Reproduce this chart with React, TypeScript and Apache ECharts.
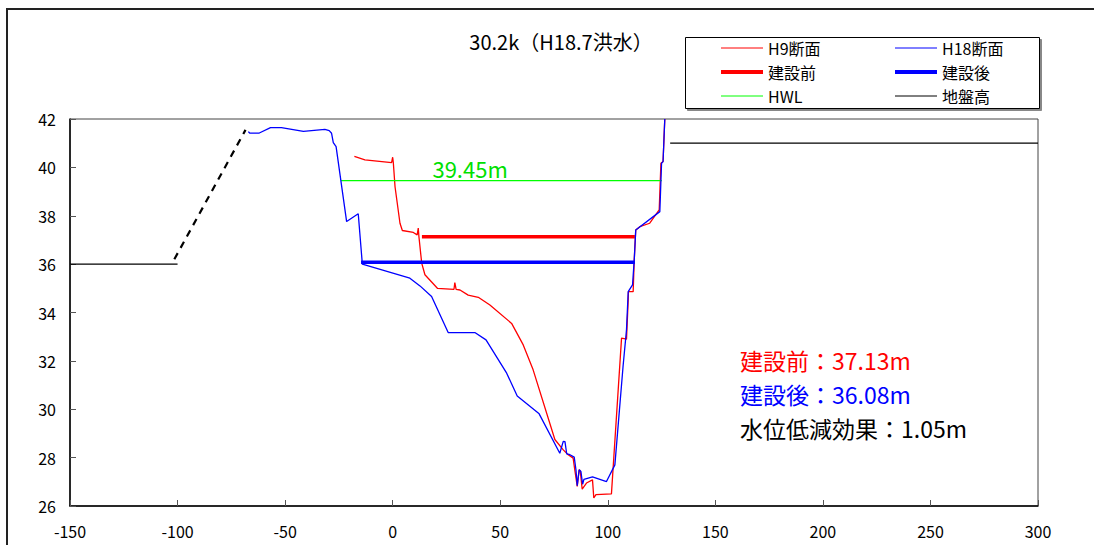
import React, { useEffect, useRef } from "react";
import * as echarts from "echarts";

const FONT = "'Noto Sans CJK JP', 'Noto Sans', sans-serif";

const xTicks = { min: -150, max: 300, interval: 50 };
const yTicks = { min: 26, max: 42, interval: 2 };

const h9Section: number[][] = [
  [-17.8, 40.45], [-12.9, 40.31], [-0.5, 40.2], [0, 40.42], [0.3, 40.2], [1.1, 39.2],
  [3.4, 37.69], [4.5, 37.39], [9.6, 37.31], [11.4, 37.21], [11.9, 37.49], [12.2, 37.14],
  [13.5, 36.04], [15.0, 35.56], [20.8, 35.0], [28.5, 34.96], [28.9, 35.24], [29.5, 34.96],
  [31.3, 34.93], [35.1, 34.72], [39.8, 34.63], [45.2, 34.31], [55.3, 33.55], [60.7, 32.66],
  [65.3, 31.63], [75.4, 28.75], [79.3, 28.32], [81.6, 28.12], [83.9, 27.98], [84.5, 27.6],
  [85.8, 26.81], [86.7, 27.5], [87.2, 27.45], [88.1, 26.7], [90.1, 26.95], [92.9, 27.08],
  [93.5, 26.33], [94.5, 26.47], [101.7, 26.5], [106.4, 32.94], [108.7, 32.9], [109.5, 34.52],
  [109.6, 34.86], [111.8, 34.86], [112.3, 36.17], [113.0, 37.41], [114.9, 37.55],
  [119.5, 37.69], [123.9, 38.24], [124.7, 40.17], [125.7, 40.24], [126.5, 42.0],
];

const h18Section: number[][] = [
  [-67.1, 41.48], [-66.5, 41.42], [-62, 41.42], [-56.8, 41.64], [-51.7, 41.64], [-41.5, 41.49],
  [-31.5, 41.57], [-29.5, 41.52], [-28.4, 41.41], [-27.6, 41.02], [-26.3, 40.86], [-21.4, 37.76],
  [-16.0, 38.08], [-14.1, 36.0], [8.0, 35.42], [12.7, 35.1], [18.1, 34.66], [25.8, 33.17],
  [38.2, 33.17], [43.4, 32.87], [53.0, 31.49], [57.9, 30.55], [68.1, 29.81], [77.7, 28.18],
  [79.3, 28.67], [80.1, 28.66], [80.9, 28.16], [82.4, 28.12], [84.4, 28.02], [85.2, 27.5],
  [85.8, 26.84], [86.7, 27.5], [87.5, 27.43], [88.3, 26.9], [88.9, 27.1], [92.9, 27.2],
  [99.4, 27.01], [103.3, 27.7], [107.1, 31.77], [108.7, 33.28], [109.5, 34.86], [111.5, 35.14],
  [112.3, 36.17], [113.0, 37.41], [124.2, 38.17], [125.0, 40.17], [125.7, 40.24], [126.5, 42.0],
];

const beforeLevel: number[][] = [[13.6, 37.13], [112.6, 37.13]];
const afterLevel: number[][] = [[-14.7, 36.08], [112.6, 36.08]];
const hwlLevel: number[][] = [[-24, 39.45], [125.1, 39.45]];
const groundLeft: number[][] = [[-150, 36], [-100, 36]];
const groundRight: number[][] = [[129, 41], [300, 41]];
const leveeDashed: number[][] = [[-101.5, 36.2], [-68.4, 41.55]];

const hwlLabel = "39.45m";
const notes = ["建設前：37.13m", "建設後：36.08m", "水位低減効果：1.05m"];
const noteColors = ["#ff0000", "#0000ff", "#000000"];

export default function App() {
  const ref = useRef<HTMLDivElement>(null);
  useEffect(() => {
    if (!ref.current) return;
    const chart = echarts.init(ref.current, undefined, { renderer: "svg" });
    const legendCommon = {
      orient: "vertical" as const,
      top: 40,
      itemWidth: 42,
      itemHeight: 14,
      itemGap: 8,
      textStyle: { fontFamily: FONT, fontSize: 16, color: "#000" },
      itemStyle: { opacity: 0 },
      selectedMode: false,
      padding: 0,
    };
    const thin = { lineStyle: { width: 1 } };
    const thick = { lineStyle: { width: 4 } };
    chart.setOption({
      animation: false,
      backgroundColor: "#fff",
      textStyle: { fontFamily: FONT },
      title: {
        text: "30.2k（H18.7洪水）",
        left: 556,
        top: 26,
        textAlign: "center",
        textStyle: { fontFamily: FONT, fontSize: 20, fontWeight: "normal", color: "#000" },
      },
      legend: [
        {
          ...legendCommon,
          left: 719,
          data: [
            { name: "H9断面", ...thin },
            { name: "建設前", ...thick },
            { name: "HWL", ...thin },
          ],
        },
        {
          ...legendCommon,
          left: 893,
          data: [
            { name: "H18断面", ...thin },
            { name: "建設後", ...thick },
            { name: "地盤高", ...thin },
          ],
        },
      ],
      graphic: [
        {
          type: "rect",
          shape: { x: 7, y: 9, width: 1200, height: 700 },
          style: { fill: "none", stroke: "#222", lineWidth: 2 },
          silent: true,
          z: -10,
        },
        {
          type: "rect",
          shape: { x: 687.5, y: 39.5, width: 354, height: 71 },
          style: { fill: "#888", stroke: "#888", lineWidth: 1 },
          silent: true,
          z: -9,
        },
        {
          type: "rect",
          shape: { x: 685.5, y: 37.5, width: 354, height: 71 },
          style: { fill: "#fff", stroke: "#000", lineWidth: 1 },
          silent: true,
          z: -8,
        },
        ...notes.map((t, i) => ({
          type: "text",
          left: 740,
          top: 348 + i * 34,
          style: { text: t, fill: noteColors[i], fontSize: 23, fontFamily: FONT },
          silent: true,
        })),
      ],
      grid: {
        left: 70,
        right: 56,
        top: 119,
        bottom: 39,
        show: true,
        borderColor: "#444",
        borderWidth: 1,
      },
      xAxis: {
        type: "value",
        min: xTicks.min,
        max: xTicks.max,
        interval: xTicks.interval,
        axisLine: { show: true, onZero: false, lineStyle: { color: "#000", width: 1.5 } },
        axisTick: { show: true, inside: true, length: 6, lineStyle: { color: "#555" } },
        splitLine: { show: false },
        axisLabel: { color: "#000", fontSize: 16, fontFamily: FONT, margin: 17 },
      },
      yAxis: {
        type: "value",
        min: yTicks.min,
        max: yTicks.max,
        interval: yTicks.interval,
        axisLine: { show: true, onZero: false, lineStyle: { color: "#000", width: 1.5 } },
        axisTick: { show: true, inside: true, length: 6, lineStyle: { color: "#555" } },
        splitLine: { show: false },
        axisLabel: { color: "#000", fontSize: 16, fontFamily: FONT, margin: 14 },
      },
      series: [
        {
          name: "H9断面",
          type: "line",
          data: h9Section,
          symbol: "none",
          lineStyle: { color: "#ff0000", width: 1.3 },
          itemStyle: { color: "#ff0000" },
          z: 3,
        },
        {
          name: "H18断面",
          type: "line",
          data: h18Section,
          symbol: "none",
          lineStyle: { color: "#0000ff", width: 1.3 },
          itemStyle: { color: "#0000ff" },
          z: 4,
        },
        {
          name: "建設前",
          type: "line",
          data: beforeLevel,
          symbol: "none",
          lineStyle: { color: "#ff0000", width: 3.5 },
          itemStyle: { color: "#ff0000" },
        },
        {
          name: "建設後",
          type: "line",
          data: afterLevel,
          symbol: "none",
          lineStyle: { color: "#0000ff", width: 3.5 },
          itemStyle: { color: "#0000ff" },
        },
        {
          name: "HWL",
          type: "line",
          data: hwlLevel,
          symbol: "none",
          lineStyle: { color: "#00ff00", width: 1.3 },
          itemStyle: { color: "#00ff00" },
          markPoint: {
            symbol: "circle",
            symbolSize: 0,
            data: [{ coord: [36, 39.45] }],
            label: {
              show: true,
              position: "top",
              distance: 2,
              formatter: hwlLabel,
              color: "#00e000",
              fontSize: 22,
              fontFamily: FONT,
            },
          },
        },
        {
          name: "地盤高",
          type: "line",
          data: groundLeft,
          symbol: "none",
          lineStyle: { color: "#000", width: 1.3 },
          itemStyle: { color: "#000" },
        },
        {
          name: "地盤高",
          type: "line",
          data: groundRight,
          symbol: "none",
          lineStyle: { color: "#000", width: 1.3 },
          itemStyle: { color: "#000" },
        },
        {
          name: "堤防",
          type: "line",
          data: leveeDashed,
          symbol: "none",
          lineStyle: { color: "#000", width: 2.2, type: [7, 6] },
          itemStyle: { color: "#000" },
        },
      ],
    });
    return () => chart.dispose();
  }, []);
  return (
    <div
      ref={ref}
      style={{ position: "absolute", left: 0, top: 0, width: 1094, height: 545 }}
    />
  );
}
